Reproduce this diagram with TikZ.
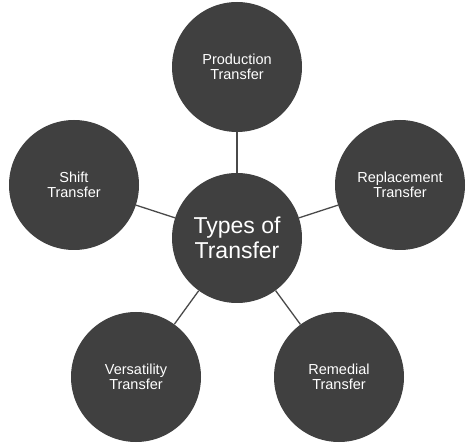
\documentclass[tikz,border=0pt]{standalone}
\usepackage{fontspec}
\setmainfont{Liberation Sans}
\definecolor{discfill}{HTML}{404040}
\definecolor{linkgrey}{HTML}{4A4A4A}
\begin{document}
\begin{tikzpicture}[x=1pt,y=-1pt,
  disc/.style={circle,fill=discfill,draw=none,minimum size=130pt,inner sep=0pt,
    text=white,align=center,font=\fontsize{14.5}{15.5}\selectfont},
  hubdisc/.style={disc,font=\fontsize{23}{25}\selectfont},
  link/.style={draw=linkgrey,line width=1.3pt}]
\useasboundingbox[fill=white] (0,0) rectangle (474,446);
\node[hubdisc] (hub) at (237,238) {Types of\\Transfer};
\node[disc] (prod) at (237,67) {Production\\Transfer};
\node[disc] (repl) at (400,185) {Replacement\\Transfer};
\node[disc] (shift) at (74,185) {Shift\\Transfer};
\node[disc] (vers) at (136,377) {Versatility\\Transfer};
\node[disc] (rem) at (339,377) {Remedial\\Transfer};
\foreach \n in {prod,repl,shift,vers,rem}
  \draw[link] (hub) -- (\n);
\end{tikzpicture}
\end{document}
